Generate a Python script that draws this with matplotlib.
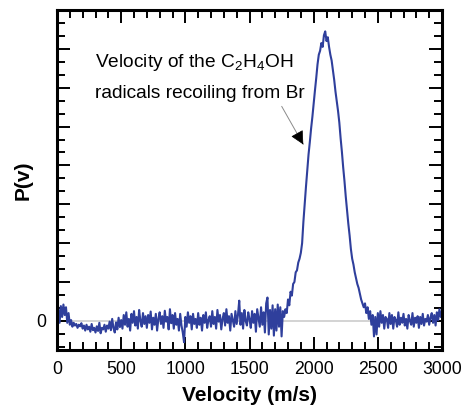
import matplotlib
matplotlib.use('Agg')
import matplotlib.pyplot as plt
import numpy as np
from matplotlib.ticker import MultipleLocator

plt.rcParams['font.family'] = ['Liberation Sans', 'DejaVu Sans']
plt.rcParams['mathtext.fontset'] = 'custom'
plt.rcParams['mathtext.rm'] = 'Liberation Sans'
plt.rcParams['mathtext.it'] = 'Liberation Sans'

# velocity grid (m/s), one value every 10 m/s from 0 to 3000
velocity = np.arange(0, 3001, 10)

# P(v) in units of one major y tick
p_v = [
    0.05, 0.30, -0.05, 0.38, 0.10, 0.42, 0.15, 0.35, -0.05, 0.20,        # 0
    -0.10, 0.02, -0.15, -0.05, -0.12, -0.08, -0.18, -0.10, -0.14, -0.06,  # 100
    -0.20, -0.12, -0.25, -0.10, -0.22, -0.15, -0.28, -0.08, -0.24, -0.18,  # 200
    -0.30, -0.14, -0.26, -0.05, -0.32, -0.18, -0.22, -0.10, -0.28, -0.12,  # 300
    -0.20, -0.02, -0.24, 0.05, -0.18, -0.30, -0.04, -0.22, 0.08, -0.16,    # 400
    0.02, -0.20, 0.15, -0.10, 0.22, -0.15, 0.05, -0.25, 0.18, -0.05,       # 500
    0.25, -0.12, 0.10, -0.20, 0.28, 0.00, -0.15, 0.20, -0.08, 0.12,        # 600
    -0.18, 0.15, -0.05, 0.24, -0.22, 0.08, -0.10, 0.18, -0.25, 0.05,       # 700
    0.22, -0.08, 0.12, -0.18, 0.26, -0.02, 0.10, -0.22, 0.30, -0.06,       # 800
    0.15, -0.20, 0.20, -0.10, 0.05, -0.25, 0.18, -0.12, -0.30, -0.55,      # 900
    0.10, -0.15, 0.22, -0.05, 0.12, -0.22, 0.18, -0.08, 0.05, -0.18,       # 1000
    0.20, -0.10, 0.08, -0.25, 0.15, -0.05, 0.22, -0.18, 0.02, 0.12,        # 1100
    -0.15, 0.25, -0.08, 0.10, -0.20, 0.28, -0.02, 0.15, -0.22, 0.05,       # 1200
    0.20, -0.12, 0.30, -0.05, 0.12, -0.25, 0.18, 0.02, -0.15, 0.25,        # 1300
    -0.08, 0.15, 0.52, -0.10, 0.20, -0.20, 0.28, 0.00, -0.12, 0.22,        # 1400
    0.05, -0.18, 0.25, -0.05, 0.18, -0.28, 0.30, 0.08, -0.15, 0.35,        # 1500
    -0.10, 0.22, -0.30, 0.45, 0.60, -0.35, 0.28, -0.20, 0.40, -0.38,       # 1600
    0.30, -0.25, 0.42, -0.15, 0.35, -0.40, 0.25, 0.10, 0.30, 0.20,         # 1700
    0.55, 0.40, 0.75, 0.65, 0.95, 1.00, 1.25, 1.30, 1.50, 1.60,            # 1800
    1.75, 2.00, 2.55, 3.00, 3.45, 3.85, 4.28, 4.60, 4.95, 5.25,            # 1900
    5.60, 5.93, 6.25, 6.60, 6.85, 6.95, 7.15, 7.05, 7.35, 7.45,            # 2000
    7.20, 7.30, 7.05, 6.85, 6.70, 6.45, 6.20, 5.90, 5.65, 5.40,            # 2100
    5.10, 4.70, 4.35, 3.95, 3.60, 3.20, 2.85, 2.50, 2.20, 1.85,            # 2200
    1.60, 1.45, 1.25, 1.10, 0.95, 0.85, 0.70, 0.55, 0.45, 0.35,            # 2300
    0.45, 0.20, 0.35, 0.05, 0.25, -0.10, 0.15, -0.40, 0.10, -0.35,         # 2400
    0.20, -0.15, 0.25, -0.05, 0.15, -0.20, 0.10, 0.05, -0.18, 0.20,        # 2500
    -0.08, 0.15, -0.20, 0.10, 0.02, -0.15, 0.22, -0.10, 0.08, -0.05,       # 2600
    0.18, -0.12, 0.05, -0.20, 0.15, 0.00, -0.10, 0.20, -0.15, 0.08,        # 2700
    -0.05, 0.12, -0.18, 0.10, -0.08, 0.18, -0.12, 0.05, -0.02, 0.15,       # 2800
    -0.10, 0.08, 0.20, -0.05, 0.15, -0.12, 0.22, 0.02, 0.30, 0.10,         # 2900
    0.25,                                                                  # 3000
]

fig = plt.figure(figsize=(4.63, 4.08), dpi=100)
ax = fig.add_axes([57 / 463, 58 / 408, 385 / 463, 340 / 408])

ax.axhline(0, color='#c8c8c8', lw=1.1, zorder=1)
ax.plot(velocity, p_v, color='#2f3f9c', lw=1.5, zorder=2)

ax.set_xlim(0, 3000)
ax.set_ylim(-0.75, 8.0)
ax.xaxis.set_major_locator(MultipleLocator(500))
ax.xaxis.set_minor_locator(MultipleLocator(100))
ax.set_yticks(np.arange(0, 9))
ax.set_yticklabels(['0'] + [''] * 8)
ax.yaxis.set_minor_locator(MultipleLocator(1 / 3))

ax.tick_params(which='both', direction='in', top=True, right=True, width=1.4)
ax.tick_params(which='major', length=9.5, labelsize=12.7, pad=8)
ax.tick_params(which='minor', length=5.5)
for s in ax.spines.values():
    s.set_linewidth(2.2)

ax.set_xlabel('Velocity (m/s)', fontsize=15, fontweight='bold', labelpad=6)
ax.set_ylabel('P(v)', fontsize=15, fontweight='bold', labelpad=2)

ax.text(293, 6.65, 'Velocity of the C$_2$H$_4$OH', fontsize=13.8, va='center')
ax.text(293, 5.85, 'radicals recoiling from Br', fontsize=13.8, va='center')

# thin grey shaft, black head
tail, tip = (1751, 5.52), (1919, 4.54)
ax.annotate('', xy=tip, xytext=tail,
            arrowprops=dict(arrowstyle='-', color='#8a8a8a', lw=0.7,
                            shrinkA=0, shrinkB=0))
ax.annotate('', xy=tip, xytext=(1880, 4.77),
            arrowprops=dict(arrowstyle='-|>,head_length=0.6,head_width=0.3',
                            fc='black', ec='black', lw=0.5,
                            mutation_scale=14, shrinkA=0, shrinkB=0))

fig.savefig('out.png', dpi=100)
